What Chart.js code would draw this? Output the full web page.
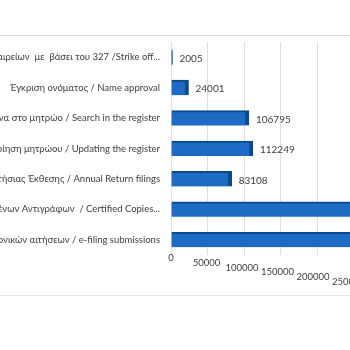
<!DOCTYPE html>
<html>
<head>
<meta charset="utf-8">
<script src="https://cdn.jsdelivr.net/npm/chart.js@4/dist/chart.umd.min.js"></script>
<style>
  html, body { margin: 0; padding: 0; background: #ffffff; }
  body { width: 350px; height: 350px; overflow: hidden; position: relative; }
  #frame {
    position: absolute; left: 0; top: 35px; width: 350px; height: 259px;
    border-top: 1px solid #d9d9d9; border-bottom: 1px solid #e3e3e3;
    overflow: hidden;
  }
  #c { position: absolute; left: -240px; top: 0; }
</style>
</head>
<body>
<div id="frame"><canvas id="c" width="776" height="259"></canvas></div>
<script>
// Service categories (Greek / English)
const categories = [
  "Διαγραφές εταιρείων  με  βάσει του 327 /Strike off...",
  "Έγκριση ονόματος / Name approval",
  "Έρευνα στο μητρώο / Search in the register",
  "Επικαιροποίηση μητρώου / Updating the register",
  "Καταχώριση Ετήσιας Έκθεσης / Annual Return filings",
  "Έκδοση Πιστοποιημένων Αντιγράφων  / Certified Copies...",
  "Υποβολή ηλεκτρονικών αιτήσεων / e-filing submissions"
];
// Number of transactions per service
const counts = [2005, 24001, 106795, 112249, 83108, 301000, 352000];
// Labelled values shown beside the bars (the two longest run off the page)
const shownLabels = ["2005", "24001", "106795", "112249", "83108", "", ""];
// Axis ticks
const xTicks = [0, 50000, 100000, 150000, 200000, 250000, 300000, 350000, 400000, 450000, 500000];

const FRONT = "#1d6bc4";
const EDGE = "#0c4a8c";

// Value labels drawn just past the end of each bar
const valueLabels = {
  id: "valueLabels",
  afterDatasetsDraw(chart) {
    const ctx = chart.ctx;
    const meta = chart.getDatasetMeta(0);
    ctx.save();
    ctx.font = "10px Lato";
    ctx.fillStyle = "#404040";
    ctx.textAlign = "left";
    ctx.textBaseline = "middle";
    meta.data.forEach((bar, i) => {
      if (!shownLabels[i]) return;
      ctx.fillText(shownLabels[i], bar.x + 7, bar.y + 1.5);
    });
    ctx.restore();
  }
};

// Axis tick labels stepping downward across the floor
const stepTicks = {
  id: "stepTicks",
  afterDraw(chart) {
    const ctx = chart.ctx;
    const xs = chart.scales.x;
    const bottom = chart.chartArea.bottom;
    ctx.save();
    ctx.font = "9.5px Lato";
    ctx.fillStyle = "#404040";
    ctx.textAlign = "center";
    ctx.textBaseline = "middle";
    xTicks.forEach((v, i) => {
      const x = xs.getPixelForValue(v) - i * 1;
      ctx.fillText(String(v), x, bottom + 3 + i * 4.8);
    });
    ctx.restore();
  }
};

new Chart(document.getElementById("c"), {
  type: "bar",
  data: {
    labels: categories,
    datasets: [{
      data: counts,
      backgroundColor: FRONT,
      borderColor: EDGE,
      borderWidth: { top: 2, right: 4, bottom: 0, left: 0 },
      borderSkipped: false,
      barThickness: 15
    }]
  },
  options: {
    indexAxis: "y",
    responsive: false,
    animation: false,
    devicePixelRatio: 1,
    layout: { padding: { top: 6, right: 0, bottom: 0, left: 0 } },
    plugins: { legend: { display: false }, tooltip: { enabled: false } },
    scales: {
      x: {
        min: 0, max: 500000,
        afterFit(s) { s.height = 40; },
        ticks: { display: false, stepSize: 50000 },
        grid: { color: "#dedede", lineWidth: 1, drawTicks: false },
        border: { display: false }
      },
      y: {
        afterFit(s) { s.width = 411; s.paddingTop = 0; s.paddingBottom = 0; },
        ticks: { font: { family: "Lato", size: 9.5 }, color: "#404040", padding: 11 },
        grid: { display: false, drawTicks: false },
        border: { display: false }
      }
    }
  },
  plugins: [valueLabels, stepTicks]
});
</script>
</body>
</html>
